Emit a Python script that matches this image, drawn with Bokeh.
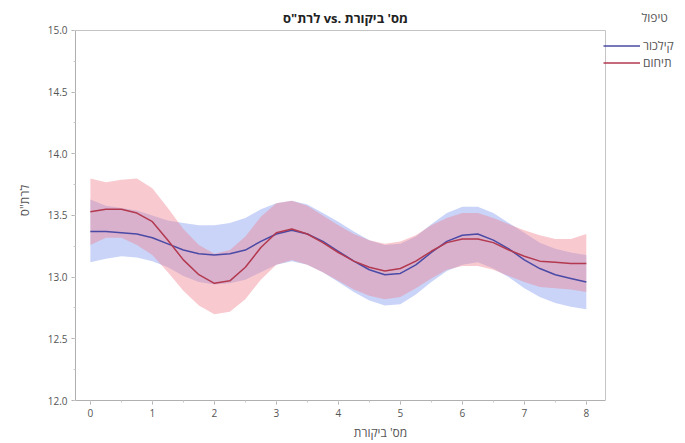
from bokeh.plotting import figure
from bokeh.models import Range1d, Legend, LegendItem, Label, SingleIntervalTicker, NumeralTickFormatter
from bokeh.embed import file_html
from bokeh.resources import INLINE

# visit number (x) at quarter steps
visit = [0, 0.25, 0.5, 0.75, 1.0, 1.25, 1.5, 1.75, 2.0, 2.25, 2.5, 2.75, 3.0, 3.25, 3.5, 3.75,
         4.0, 4.25, 4.5, 4.75, 5.0, 5.25, 5.5, 5.75, 6.0, 6.25, 6.5, 6.75, 7.0, 7.25, 7.5, 7.75, 8.0]

# smoothed fit and band, group "קילכור"
kil_fit = [13.37, 13.37, 13.36, 13.35, 13.32, 13.27, 13.22, 13.19, 13.18, 13.19, 13.22, 13.29, 13.35,
           13.38, 13.35, 13.29, 13.21, 13.13, 13.06, 13.02, 13.03, 13.10, 13.20, 13.29, 13.34, 13.35,
           13.30, 13.23, 13.14, 13.07, 13.02, 12.99, 12.96]
kil_hi = [13.63, 13.58, 13.56, 13.54, 13.50, 13.46, 13.44, 13.42, 13.42, 13.44, 13.48, 13.55, 13.60,
          13.62, 13.59, 13.52, 13.45, 13.37, 13.30, 13.26, 13.27, 13.33, 13.43, 13.52, 13.57, 13.57,
          13.52, 13.44, 13.36, 13.28, 13.23, 13.20, 13.18]
kil_lo = [13.12, 13.15, 13.17, 13.16, 13.13, 13.08, 13.01, 12.96, 12.94, 12.95, 12.98, 13.04, 13.10,
          13.13, 13.10, 13.04, 12.96, 12.88, 12.81, 12.77, 12.78, 12.86, 12.96, 13.05, 13.10, 13.12,
          13.07, 13.00, 12.91, 12.84, 12.79, 12.76, 12.74]

# smoothed fit and band, group "תיחום"
tih_fit = [13.53, 13.55, 13.55, 13.52, 13.45, 13.30, 13.14, 13.02, 12.95, 12.97, 13.08, 13.24, 13.36,
           13.39, 13.35, 13.28, 13.20, 13.13, 13.08, 13.05, 13.07, 13.13, 13.21, 13.28, 13.31, 13.31,
           13.28, 13.22, 13.17, 13.13, 13.12, 13.11, 13.11]
tih_hi = [13.80, 13.77, 13.79, 13.80, 13.72, 13.56, 13.39, 13.26, 13.19, 13.22, 13.33, 13.49, 13.60,
          13.62, 13.58, 13.50, 13.42, 13.35, 13.30, 13.27, 13.29, 13.34, 13.42, 13.48, 13.52, 13.52,
          13.48, 13.43, 13.38, 13.34, 13.31, 13.31, 13.35]
tih_lo = [13.26, 13.32, 13.32, 13.26, 13.18, 13.04, 12.89, 12.77, 12.70, 12.72, 12.82, 12.98, 13.10,
          13.14, 13.10, 13.04, 12.97, 12.90, 12.85, 12.82, 12.84, 12.91, 12.99, 13.06, 13.09, 13.09,
          13.06, 13.01, 12.96, 12.92, 12.91, 12.90, 12.88]

group_names = ["קילכור", "תיחום"]
legend_title = "טיפול"
x_title = "מס' ביקורת"
y_title = "לרת\"ס"
chart_title = y_title + " vs. " + x_title

FONT = "Open Sans"
BLUE_LINE = "#4a4aa6"
RED_LINE = "#b2394f"
BLUE_FILL = "#8aa0f0"
RED_FILL = "#ef8090"
FRAME = "#c4c4c4"

# plotting box limits; the canvas around it holds title and legend
X_MIN, X_MAX = -0.24, 8.31
Y_MIN, Y_MAX = 12.0, 15.0

p = figure(width=685, height=443, output_backend="svg", toolbar_location=None,
           x_range=Range1d(X_MIN, 9.6), y_range=Range1d(Y_MIN, 15.2432),
           min_border_left=75, min_border_right=0, min_border_top=0, min_border_bottom=43)

p.xgrid.visible = False
p.ygrid.visible = False
p.outline_line_color = None
p.background_fill_color = "white"
p.border_fill_color = "white"

p.xaxis.ticker = SingleIntervalTicker(interval=1, num_minor_ticks=2)
p.yaxis.ticker = SingleIntervalTicker(interval=0.5, num_minor_ticks=2)
p.yaxis.formatter = NumeralTickFormatter(format="0.0")
p.xaxis.bounds = (X_MIN, X_MAX)
p.yaxis.bounds = (Y_MIN, Y_MAX)

for ax in (p.xaxis, p.yaxis):
    ax.axis_line_color = "#b0b0b0"
    ax.major_tick_line_color = "#b0b0b0"
    ax.minor_tick_line_color = "#c8c8c8"
    ax.major_tick_out = 4
    ax.major_tick_in = 0
    ax.minor_tick_out = 2
    ax.minor_tick_in = 0
    ax.major_label_text_font = FONT
    ax.major_label_text_font_size = "10px"
    ax.major_label_text_color = "#555555"
    ax.axis_label_text_font = FONT
    ax.axis_label_text_font_size = "12px"
    ax.axis_label_text_font_style = "normal"
    ax.axis_label_text_color = "#555555"
    ax.major_label_standoff = 4

p.xaxis.axis_label_standoff = 4
p.yaxis.axis_label_standoff = 12
p.xaxis.axis_label = x_title
p.yaxis.axis_label = y_title

# top and right edges of the plotting box
p.segment(x0=[X_MIN, X_MAX], y0=[Y_MAX, Y_MIN], x1=[X_MAX, X_MAX], y1=[Y_MAX, Y_MAX],
          line_color=FRAME, line_width=1)

p.varea(x=visit, y1=kil_lo, y2=kil_hi, fill_color=BLUE_FILL, fill_alpha=0.45)
p.varea(x=visit, y1=tih_lo, y2=tih_hi, fill_color=RED_FILL, fill_alpha=0.42)
r_kil = p.line(visit, kil_fit, line_color=BLUE_LINE, line_width=1.5)
r_tih = p.line(visit, tih_fit, line_color=RED_LINE, line_width=1.5)

legend = Legend(items=[LegendItem(label=group_names[0], renderers=[r_kil]),
                       LegendItem(label=group_names[1], renderers=[r_tih])],
                location=(528, 329), orientation="vertical",
                background_fill_alpha=0, border_line_alpha=0,
                padding=0, margin=0, spacing=0,
                glyph_width=37, glyph_height=17, label_height=17, label_standoff=3,
                label_text_font=FONT, label_text_font_size="12px", label_text_color="#555555")
p.add_layout(legend, "center")

# chart title, centred over the plotting box
p.add_layout(Label(x=270, y=383, x_units="screen", y_units="screen", text=chart_title,
                   text_font=FONT, text_font_size="13px", text_font_style="bold",
                   text_color="#222222", text_align="center", text_baseline="middle"))

# legend heading
p.add_layout(Label(x=566, y=383, x_units="screen", y_units="screen", text=legend_title,
                   text_font=FONT, text_font_size="12px", text_color="#555555",
                   text_align="left", text_baseline="middle"))

open("out.html", "w").write(file_html(p, INLINE))
